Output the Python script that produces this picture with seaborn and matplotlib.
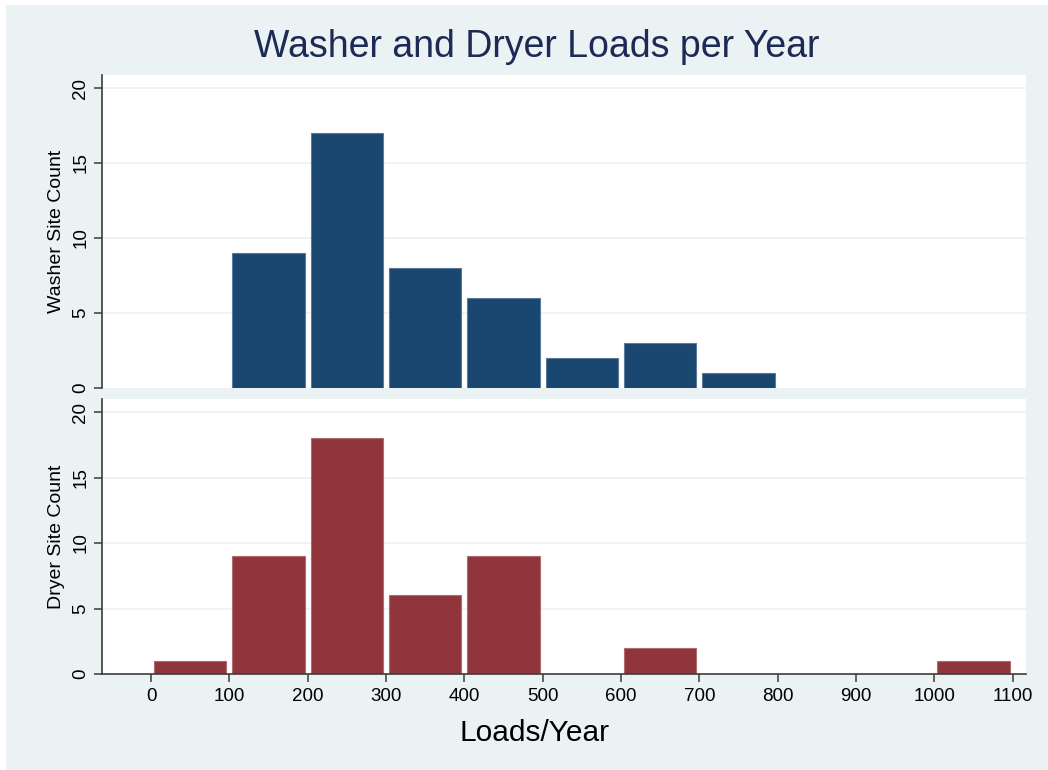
import numpy as np
import pandas as pd
import matplotlib
matplotlib.use('Agg')
import matplotlib.pyplot as plt
import seaborn as sns
from matplotlib.patches import Rectangle

# bin centres (loads/year) and site counts per 100-load bin
bin_edges = list(range(0, 1200, 100))
washer_centers = [150, 250, 350, 450, 550, 650, 750]
washer_counts = [9, 17, 8, 6, 2, 3, 1]
dryer_centers = [50, 150, 250, 350, 450, 650, 1050]
dryer_counts = [1, 9, 18, 6, 9, 2, 1]
x_ticks = list(range(0, 1200, 100))
y_ticks = [0, 5, 10, 15, 20]

NAVY = '#1a476f'
MAROON = '#90353b'
BG = '#eaf2f3'
AXIS = '#3c3c3c'

sns.set_theme(style='white')
plt.rcParams['font.family'] = ['Liberation Sans', 'DejaVu Sans']
plt.rcParams['text.color'] = 'black'
plt.rcParams['axes.labelcolor'] = 'black'
plt.rcParams['xtick.color'] = 'black'
plt.rcParams['ytick.color'] = 'black'

fig = plt.figure(figsize=(10.48, 7.70), dpi=100)
fig.patch.set_facecolor('white')
fig.patches.append(Rectangle((6 / 1048, 0), 1 - 6 / 1048, 1 - 5 / 770,
                             transform=fig.transFigure, facecolor=BG,
                             edgecolor='none', zorder=-10))

left, width = 0.097, 0.882
ax_top = fig.add_axes([left, 0.4961, width, 0.4065])
ax_bot = fig.add_axes([left, 0.1247, width, 0.3571])

washer = pd.DataFrame({'loads': washer_centers, 'count': washer_counts})
dryer = pd.DataFrame({'loads': dryer_centers, 'count': dryer_counts})

sns.histplot(data=washer, x='loads', weights='count', bins=bin_edges,
             shrink=0.92, color=NAVY, alpha=1, edgecolor='#5a7a99',
             linewidth=0.8, ax=ax_top)
sns.histplot(data=dryer, x='loads', weights='count', bins=bin_edges,
             shrink=0.92, color=MAROON, alpha=1, edgecolor='#b06a70',
             linewidth=0.8, ax=ax_bot)

for ax, ylab, ytop in [(ax_top, 'Washer Site Count', 20.87),
                       (ax_bot, 'Dryer Site Count', 21.0)]:
    # hide empty bins so no outline is left on the baseline
    for p in ax.patches:
        if p.get_height() == 0:
            p.set_visible(False)
    ax.set_facecolor('white')
    ax.set_xlim(-63, 1117)
    ax.set_ylim(0, ytop)
    ax.set_yticks(y_ticks)
    ax.set_yticklabels([str(v) for v in y_ticks], rotation=90, va='center',
                       fontsize=13.5)
    for v in y_ticks[1:]:
        ax.axhline(v, color=BG, lw=1.2, zorder=0)
    ax.set_axisbelow(True)
    ax.set_ylabel(ylab, fontsize=14, labelpad=5)
    for s in ['top', 'right']:
        ax.spines[s].set_visible(False)
    ax.spines['left'].set_color(AXIS)
    ax.spines['left'].set_linewidth(1.2)
    ax.tick_params(axis='y', which='major', direction='out', length=6,
                   width=1.1, color=AXIS, left=True, pad=3)

ax_top.spines['bottom'].set_visible(False)
ax_top.set_xticks([])
ax_top.set_xlabel('')

ax_bot.spines['bottom'].set_color(AXIS)
ax_bot.spines['bottom'].set_linewidth(1.2)
ax_bot.set_xticks(x_ticks)
ax_bot.set_xticklabels([str(v) for v in x_ticks], fontsize=13.5)
ax_bot.tick_params(axis='x', direction='out', length=6, width=1.1,
                   color=AXIS, bottom=True, pad=4)
ax_bot.set_xlabel('Loads/Year', fontsize=21.5)
ax_bot.xaxis.set_label_coords(0.468, -0.165)

fig.text(0.5125, 0.939, 'Washer and Dryer Loads per Year', ha='center',
         va='center', fontsize=27, color='#1c2a55')

fig.savefig('out.png', dpi=100, facecolor=fig.get_facecolor())
